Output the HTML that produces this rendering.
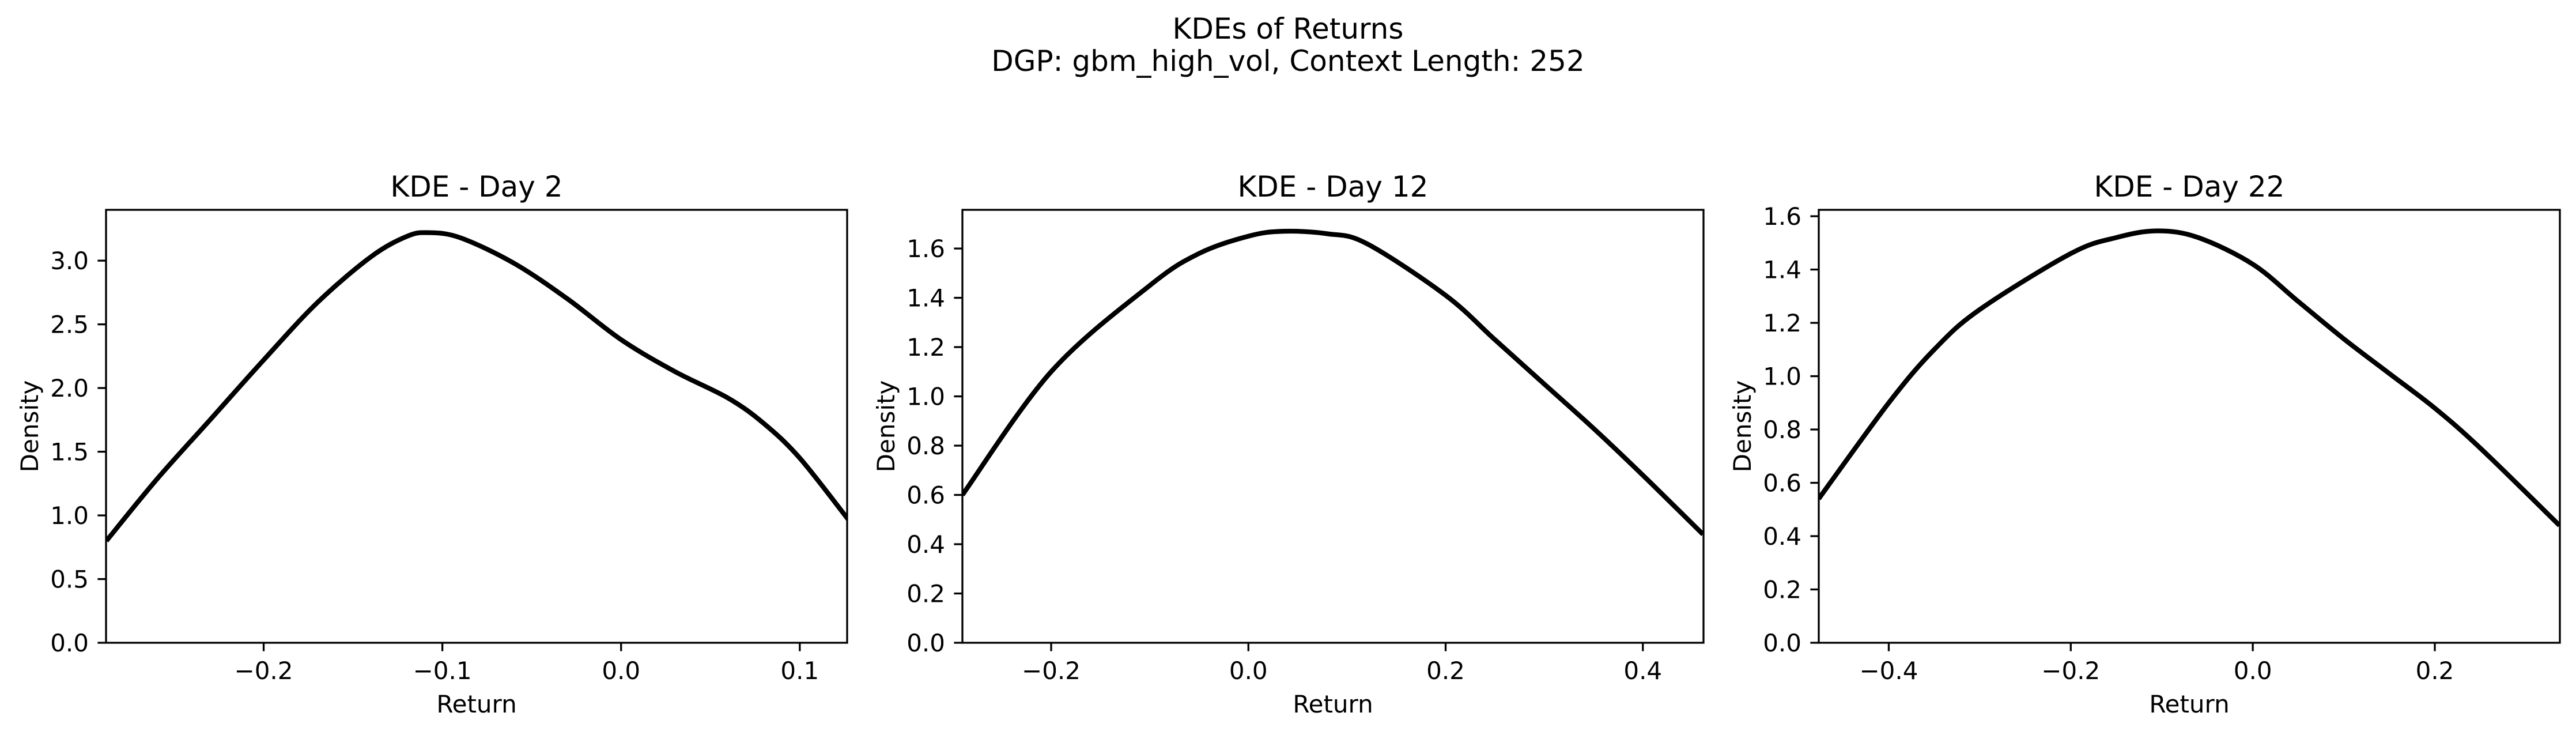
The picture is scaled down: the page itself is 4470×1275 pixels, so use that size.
<!DOCTYPE html>
<html><head><meta charset="utf-8">
<style>
html,body{margin:0;padding:0;background:#fff;}
svg{display:block;font-family:"DejaVu Sans","Liberation Sans",sans-serif;}
</style></head>
<body>
<svg id="fig" width="4470" height="1275" viewBox="0 0 4470 1275" xmlns="http://www.w3.org/2000/svg">
<rect width="4470" height="1275" fill="#fff"/>
<text x="2235" y="67" font-size="50" text-anchor="middle">KDEs of Returns</text>
<text x="2235" y="123" font-size="50" text-anchor="middle">DGP: gbm_high_vol, Context Length: 252</text>
</svg>
<script>
// Day 2
const day2X = [-0.288,-0.26,-0.23,-0.2,-0.17,-0.14,-0.12,-0.108,-0.09,-0.06,-0.03,0.0,0.03,0.06,0.08,0.1,0.127];
const day2Y = [0.80,1.28,1.75,2.22,2.67,3.03,3.19,3.22,3.18,2.98,2.70,2.38,2.13,1.92,1.72,1.45,0.97];
const day2XTicks = [-0.2,-0.1,0.0,0.1];
const day2XTickLabels = ["\u22120.2","\u22120.1","0.0","0.1"];
const day2YTicks = [0,0.5,1.0,1.5,2.0,2.5,3.0];
const day2YTickLabels = ["0.0","0.5","1.0","1.5","2.0","2.5","3.0"];
// Day 12
const day12X = [-0.290,-0.2,-0.1,-0.05,0.0,0.035,0.08,0.12,0.2,0.25,0.3,0.35,0.4,0.461];
const day12Y = [0.60,1.10,1.45,1.58,1.65,1.67,1.66,1.62,1.41,1.23,1.05,0.87,0.68,0.44];
const day12XTicks = [-0.2,0.0,0.2,0.4];
const day12XTickLabels = ["\u22120.2","0.0","0.2","0.4"];
const day12YTicks = [0,0.2,0.4,0.6,0.8,1.0,1.2,1.4,1.6];
const day12YTickLabels = ["0.0","0.2","0.4","0.6","0.8","1.0","1.2","1.4","1.6"];
// Day 22
const day22X = [-0.477,-0.4,-0.35,-0.3,-0.2,-0.15,-0.105,-0.06,0.0,0.05,0.1,0.15,0.2,0.25,0.337];
const day22Y = [0.54,0.90,1.10,1.25,1.46,1.52,1.545,1.52,1.42,1.28,1.14,1.01,0.88,0.73,0.44];
const day22XTicks = [-0.4,-0.2,0.0,0.2];
const day22XTickLabels = ["\u22120.4","\u22120.2","0.0","0.2"];
const day22YTicks = [0,0.2,0.4,0.6,0.8,1.0,1.2,1.4,1.6];
const day22YTickLabels = ["0.0","0.2","0.4","0.6","0.8","1.0","1.2","1.4","1.6"];
const titles = ["KDE - Day 2","KDE - Day 12","KDE - Day 22"];

const NS = "http://www.w3.org/2000/svg";
const svg = document.getElementById('fig');
function mk(tag, attrs, parent){
  const e = document.createElementNS(NS, tag);
  for (const k in attrs) e.setAttribute(k, attrs[k]);
  (parent||svg).appendChild(e); return e;
}
const panels = [
  {L:184, R:1470, xd:[-0.2882,0.1265], yd:[0,3.399], xs:day2X, ys:day2Y, xt:day2XTicks, xl:day2XTickLabels, yt:day2YTicks, yl:day2YTickLabels, name:'day-2'},
  {L:1670, R:2956, xd:[-0.290,0.4615], yd:[0,1.757], xs:day12X, ys:day12Y, xt:day12XTicks, xl:day12XTickLabels, yt:day12YTicks, yl:day12YTickLabels, name:'day-12'},
  {L:3156, R:4442, xd:[-0.4769,0.3374], yd:[0,1.624], xs:day22X, ys:day22Y, xt:day22XTicks, xl:day22XTickLabels, yt:day22YTicks, yl:day22YTickLabels, name:'day-22'}
];
const T = 364, B = 1115;
panels.forEach((p, i) => {
  const g = mk('g', {});
  
  
  const sx = v => p.L + (v - p.xd[0]) / (p.xd[1] - p.xd[0]) * (p.R - p.L);
  const sy = v => B - (v - p.yd[0]) / (p.yd[1] - p.yd[0]) * (B - T);
  const pts = p.xs.map((x, k) => [sx(x), sy(p.ys[k])]);
  let d = 'M' + pts[0][0] + ',' + pts[0][1];
  for (let k = 0; k < pts.length - 1; k++) {
    const p0 = pts[k-1] || pts[k], p1 = pts[k], p2 = pts[k+1], p3 = pts[k+2] || p2;
    const c1 = [p1[0] + (p2[0]-p0[0])/6, p1[1] + (p2[1]-p0[1])/6];
    const c2 = [p2[0] - (p3[0]-p1[0])/6, p2[1] - (p3[1]-p1[1])/6];
    d += ' C' + c1 + ' ' + c2 + ' ' + p2;
  }
  const clipId = 'clip' + i;
  const cp = mk('clipPath', {id: clipId}, g);
  mk('rect', {x:p.L, y:T, width:p.R-p.L, height:B-T}, cp);
  const line = mk('path', {d:d, fill:'none', stroke:'#000', 'stroke-width':8.3, 'clip-path':'url(#'+clipId+')', 'stroke-linejoin':'round'}, g);
  
  
  p.xt.forEach((v, k) => {
    const x = sx(v);
    mk('line', {x1:x, x2:x, y1:B, y2:B+14.6, stroke:'#000', 'stroke-width':3.3}, g);
    const t = mk('text', {x:x, y:1178, 'font-size':42, 'text-anchor':'middle'}, g);
    
    
    t.textContent = p.xl[k];
  });
  p.yt.forEach((v, k) => {
    const y = sy(v);
    mk('line', {x1:p.L-14.6, x2:p.L, y1:y, y2:y, stroke:'#000', 'stroke-width':3.3}, g);
    const t = mk('text', {x:p.L-30, y:y+15, 'font-size':42, 'text-anchor':'end'}, g);
    
    
    t.textContent = p.yl[k];
  });
  const fr = mk('rect', {x:p.L, y:T, width:p.R-p.L, height:B-T, fill:'none', stroke:'#000', 'stroke-width':3.3}, g);
  
  
  const tt = mk('text', {x:(p.L+p.R)/2, y:341, 'font-size':50, 'text-anchor':'middle'}, g);
  
  
  tt.textContent = titles[i];
  const xl = mk('text', {x:(p.L+p.R)/2, y:1236, 'font-size':42, 'text-anchor':'middle'}, g);
  
  
  xl.textContent = 'Return';
  const cy = (T+B)/2, cx = p.L - 118;
  const yl = mk('text', {x:cx, y:cy, 'font-size':42, 'text-anchor':'middle', transform:'rotate(-90 '+cx+' '+cy+')'}, g);
  
  
  yl.textContent = 'Density';
});
</script>
</body></html>
